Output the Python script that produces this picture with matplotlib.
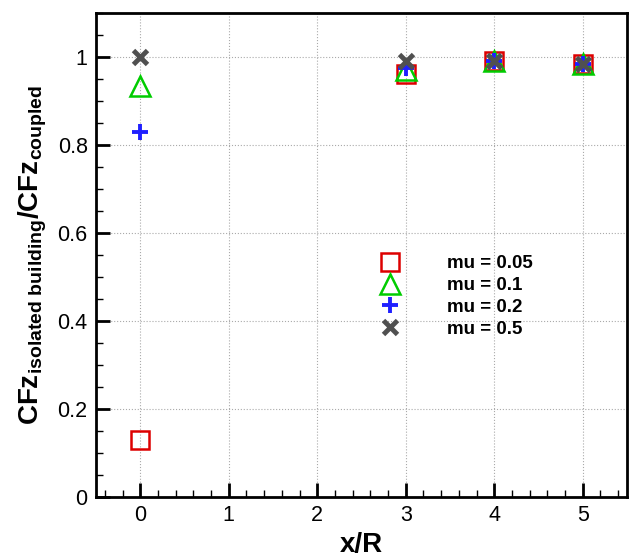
import matplotlib
matplotlib.use("Agg")
import matplotlib.pyplot as plt
from matplotlib.ticker import MultipleLocator, FuncFormatter

plt.rcParams['font.family'] = ['Liberation Sans', 'DejaVu Sans']
plt.rcParams['mathtext.fontset'] = 'custom'
plt.rcParams['mathtext.rm'] = 'Liberation Sans'
plt.rcParams['mathtext.bf'] = 'Liberation Sans:bold'
plt.rcParams['mathtext.it'] = 'Liberation Sans:italic'

x = [0, 3, 4, 5]
mu005 = [0.13, 0.961, 0.99, 0.985]
mu01 = [0.933, 0.97, 0.99, 0.985]
mu02 = [0.83, 0.975, 0.99, 0.985]
mu05 = [1.0, 0.99, 0.99, 0.985]
labels = ["mu = 0.05", "mu = 0.1", "mu = 0.2", "mu = 0.5"]

fig = plt.figure(figsize=(6.3, 5.58), dpi=100)
ax = fig.add_axes([96/630, 1-497/558, (627-96)/630, (497-13)/558])

ax.plot(x, mu005, ls='none', marker='s', ms=13, mfc='none', mec='#dd0000', mew=1.8, label=labels[0])
ax.plot(x, mu01, ls='none', marker='^', ms=15, mfc='none', mec='#00cc00', mew=1.8, label=labels[1])
ax.plot(x, mu02, ls='none', marker='+', ms=11, mec='#2020ff', mew=2.8, label=labels[2])
ax.plot(x, mu05, ls='none', marker='x', ms=10, mec='#505050', mew=3.5, label=labels[3])

ax.set_xlim(-0.5, 5.5)
ax.set_ylim(0, 1.1)
ax.xaxis.set_major_locator(MultipleLocator(1))
ax.xaxis.set_minor_locator(MultipleLocator(0.2))
ax.yaxis.set_major_locator(MultipleLocator(0.2))
ax.yaxis.set_minor_locator(MultipleLocator(0.05))
ax.yaxis.set_major_formatter(FuncFormatter(lambda v, p: '%g' % round(v, 2)))

ax.tick_params(which='major', direction='in', length=10, width=2, labelsize=15.5, top=False, right=False, pad=6)
ax.tick_params(which='minor', direction='in', length=5, width=1, top=False, right=False)
for s in ax.spines.values():
    s.set_linewidth(2)
ax.grid(True, which='major', ls=':', color='#aaaaaa', lw=0.8)

ax.set_xlabel('x/R', fontsize=20, fontweight='bold', labelpad=4)
ax.set_ylabel(r'$\mathbf{CFz_{isolated\ building}/CFz_{coupled}}$', fontsize=20, labelpad=6)

leg = ax.legend(loc='upper left', bbox_to_anchor=(0.505, 0.515), frameon=False,
                prop={'weight': 'bold', 'size': 13.5}, handletextpad=2.0,
                labelspacing=0.25, borderaxespad=0)

fig.savefig('out.png', dpi=100)
